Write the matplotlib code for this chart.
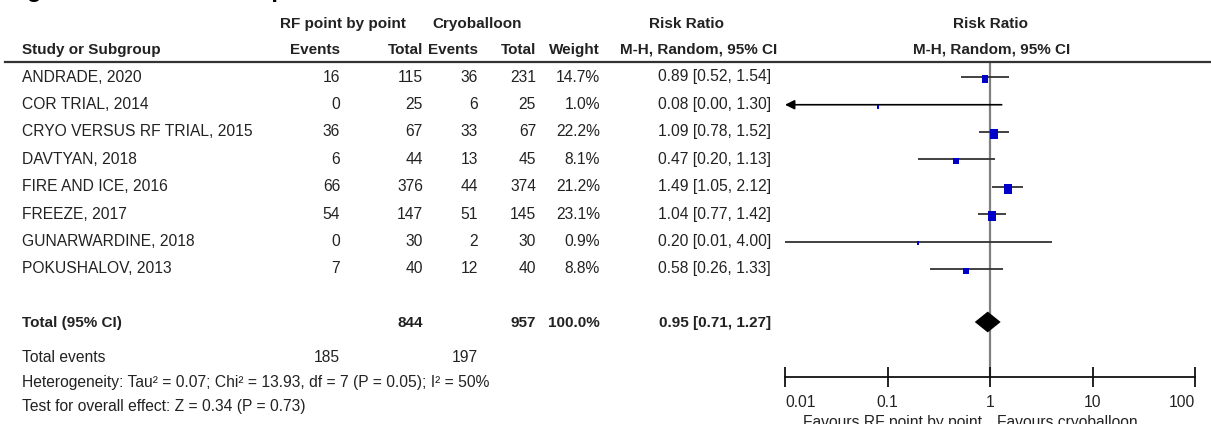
import numpy as np
import matplotlib
matplotlib.use("Agg")
import matplotlib.pyplot as plt
from matplotlib.lines import Line2D

plt.rcParams['font.family'] = ['Liberation Sans', 'DejaVu Sans']

# --- data ---
studies = ["ANDRADE, 2020", "COR TRIAL, 2014", "CRYO VERSUS RF TRIAL, 2015", "DAVTYAN, 2018",
           "FIRE AND ICE, 2016", "FREEZE, 2017", "GUNARWARDINE, 2018", "POKUSHALOV, 2013"]
rf_events = [16, 0, 36, 6, 66, 54, 0, 7]
rf_total = [115, 25, 67, 44, 376, 147, 30, 40]
cryo_events = [36, 6, 33, 13, 44, 51, 2, 12]
cryo_total = [231, 25, 67, 45, 374, 145, 30, 40]
weights = [14.7, 1.0, 22.2, 8.1, 21.2, 23.1, 0.9, 8.8]
rr = [0.89, 0.08, 1.09, 0.47, 1.49, 1.04, 0.20, 0.58]
rr_lo = [0.52, 0.00, 0.78, 0.20, 1.05, 0.77, 0.01, 0.26]
rr_hi = [1.54, 1.30, 1.52, 1.13, 2.12, 1.42, 4.00, 1.33]

total_rr, total_lo, total_hi = 0.95, 0.71, 1.27
total_rf, total_cryo = 844, 957
events_rf, events_cryo = 185, 197
heterogeneity = "Heterogeneity: Tau² = 0.07; Chi² = 13.93, df = 7 (P = 0.05); I² = 50%"
overall = "Test for overall effect: Z = 0.34 (P = 0.73)"
ticks = [0.01, 0.1, 1, 10, 100]

W, H = 1211, 424
fig = plt.figure(figsize=(W / 100, H / 100), dpi=100)
txt_col = '#222222'
fs = 11.25


def px(x, y):
    return x / W, 1 - y / H


def put(x, y, s, ha='left', bold=False, size=None):
    if size is None:
        size = 11 if bold else fs
    fig.text(*px(x, y), s, ha=ha, va='center', fontsize=size,
             fontweight='bold' if bold else 'normal', color=txt_col)


# title (cut off at the top edge)
fig.text(*px(6, -3), "Figure 4. Need for redo procedure", ha='left', va='baseline',
         fontsize=17, fontweight='bold', color='black')

# header
put(343, 24, "RF point by point", ha='center', bold=True)
put(477, 24, "Cryoballoon", ha='center', bold=True)
put(686, 24, "Risk Ratio", ha='center', bold=True)
put(990, 24, "Risk Ratio", ha='center', bold=True)
put(22, 50, "Study or Subgroup", bold=True)
put(340, 50, "Events", ha='right', bold=True)
put(423, 50, "Total", ha='right', bold=True)
put(478, 50, "Events", ha='right', bold=True)
put(536, 50, "Total", ha='right', bold=True)
put(600, 50, "Weight", ha='right', bold=True)
put(699, 50, "M-H, Random, 95% CI", ha='center', bold=True)
put(992, 50, "M-H, Random, 95% CI", ha='center', bold=True)
fig.add_artist(Line2D([5 / W, 1], [1 - 61.5 / H] * 2, color='#333333', lw=1.6))

# study rows
row_y0, row_dy = 77, 27.4
for i, name in enumerate(studies):
    y = row_y0 + i * row_dy
    put(22, y, name)
    put(340, y, str(rf_events[i]), ha='right')
    put(423, y, str(rf_total[i]), ha='right')
    put(478, y, str(cryo_events[i]), ha='right')
    put(536, y, str(cryo_total[i]), ha='right')
    put(600, y, f"{weights[i]:.1f}%", ha='right')
    put(771, y, f"{rr[i]:.2f} [{rr_lo[i]:.2f}, {rr_hi[i]:.2f}]", ha='right')

# totals
put(22, 323, "Total (95% CI)", bold=True)
put(423, 323, str(total_rf), ha='right', bold=True)
put(536, 323, str(total_cryo), ha='right', bold=True)
put(600, 323, "100.0%", ha='right', bold=True)
put(771, 323, f"{total_rr:.2f} [{total_lo:.2f}, {total_hi:.2f}]", ha='right', bold=True)
put(22, 357, "Total events")
put(340, 357, str(events_rf), ha='right')
put(478, 357, str(events_cryo), ha='right')
put(22, 382, heterogeneity)
put(22, 407, overall)

# --- forest plot axes ---
ax_l, ax_r, ax_t, ax_b = 785, 1195, 61.5, 377
ax = fig.add_axes([ax_l / W, 1 - ax_b / H, (ax_r - ax_l) / W, (ax_b - ax_t) / H])
ax.set_xscale('log')
ax.set_xlim(ticks[0], ticks[-1])
ax.set_ylim(10.95, -0.58)
ax.patch.set_alpha(0)
for s in ['top', 'left', 'right']:
    ax.spines[s].set_visible(False)
ax.spines['bottom'].set_linewidth(1.3)
ax.spines['bottom'].set_color('#111111')
ax.set_yticks([])
ax.set_xticks(ticks)
ax.set_xticklabels([f"{t:g}" for t in ticks])
ax.minorticks_off()
ax.tick_params(axis='x', direction='inout', length=14, width=1.3, labelsize=fs,
               pad=6, colors='#111111', labelcolor=txt_col)
labels = ax.get_xticklabels()
labels[0].set_horizontalalignment('left')
labels[-1].set_horizontalalignment('right')

ax.axvline(1, color='#808080', lw=1.6, zorder=1)

for i in range(len(studies)):
    lo = max(rr_lo[i], ticks[0])
    if rr_lo[i] < ticks[0] or rr_lo[i] == 0:
        ax.annotate("", xy=(ticks[0], i), xytext=(rr_hi[i], i),
                    arrowprops=dict(arrowstyle='-|>', color='black', lw=1.2,
                                    mutation_scale=14, shrinkA=0, shrinkB=0))
    else:
        ax.plot([lo, rr_hi[i]], [i, i], color='#333333', lw=1.3, zorder=2,
                solid_capstyle='butt')
    side = max(7.8 * np.sqrt(weights[i] / 23.1), 2.6)
    ax.plot(rr[i], i + 0.07, marker=[(-0.4, -0.5), (0.4, -0.5), (0.4, 0.5), (-0.4, 0.5)],
            markersize=side, color='#0000C8', markeredgewidth=0, zorder=3)

# pooled diamond
ty = 8.94
ax.fill([total_lo, total_rr, total_hi, total_rr], [ty, ty - 0.38, ty, ty + 0.38],
        color='black', zorder=4, lw=0)

put(982, 422, "Favours RF point by point", ha='right')
put(997, 422, "Favours cryoballoon", ha='left')

fig.savefig("out.png", dpi=100)
